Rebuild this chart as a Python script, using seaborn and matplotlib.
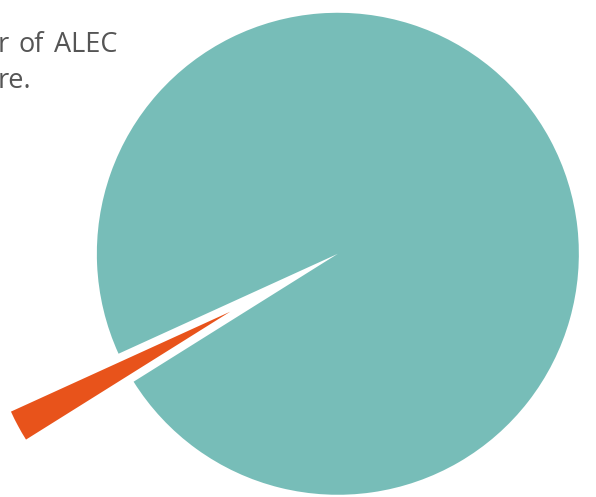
import matplotlib
matplotlib.use("Agg")
import matplotlib.pyplot as plt
import seaborn as sns

# Data
labels = ["Other", "ALEC"]
values = [2.1, 97.9]
colors = ["#E8531B", "#77BDB8"]
line1_words = ["r", "of", "ALEC"]
line2_text = "re."

sns.set_theme(style="white")
plt.rcParams['font.family'] = ['Open Sans', 'DejaVu Sans']

W, H = 596, 497
R = 241
fig = plt.figure(figsize=(W / 100, H / 100), dpi=100)
ax = fig.add_axes([0, 0, 1, 1])

# explode is in data units (pixels here)
ax.pie(values, colors=colors, startangle=204.5, counterclock=True,
       explode=[0.47 * R, 0.037 * R], radius=R, center=(330, H - 258),
       wedgeprops=dict(linewidth=0), frame=True)
ax.set_xlim(0, W)
ax.set_ylim(0, H)
ax.set_axis_off()

for word, x in zip(line1_words, [-2, 19, 54]):
    ax.text(x, H - 52, word, fontsize=19.5, color="#555555",
            ha="left", va="baseline")
ax.text(-2, H - 88, line2_text, fontsize=19.5, color="#555555",
        ha="left", va="baseline")

fig.savefig("out.png", dpi=100)
